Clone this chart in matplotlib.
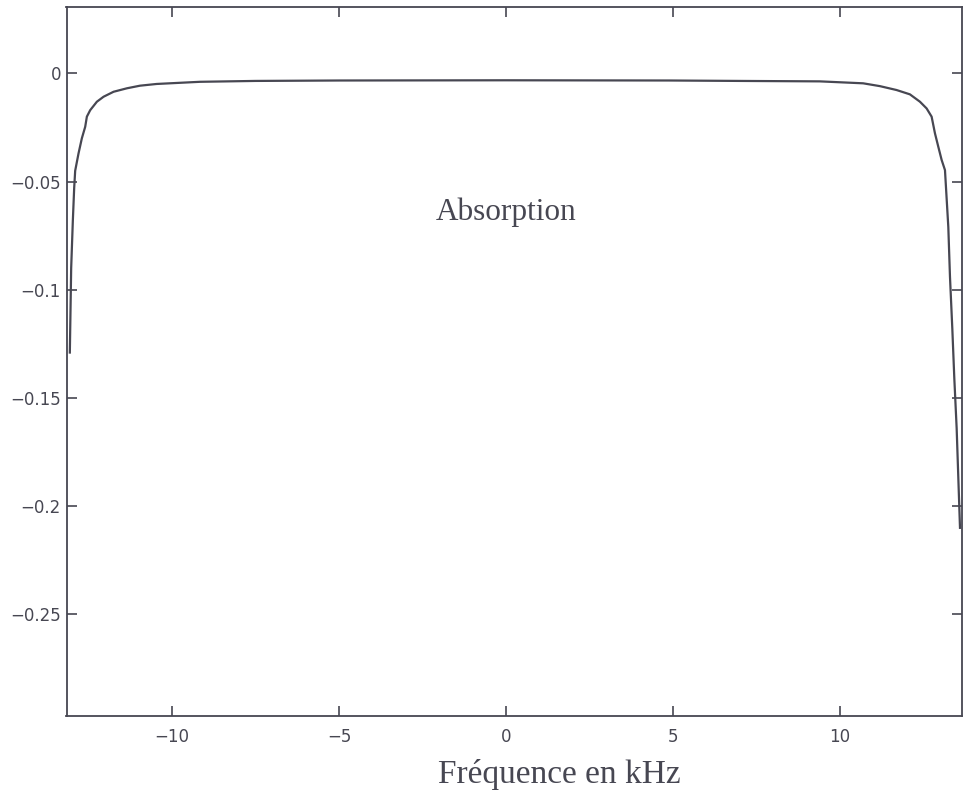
import matplotlib
matplotlib.use("Agg")
import matplotlib.pyplot as plt

# Data (frequency in kHz, absorption)
freq = [-13.06, -13.02, -12.97, -12.93, -12.9, -12.8, -12.7, -12.6, -12.55, -12.45,
        -12.25, -12.05, -11.75, -11.35, -10.96, -10.46, -9.16, -7.5, -5.0, 0.0,
        4.9, 7.0, 9.4, 10.7, 11.2, 11.7, 12.1, 12.4, 12.6, 12.75,
        12.85, 12.95, 13.05, 13.15, 13.25, 13.30, 13.37, 13.43, 13.50, 13.60]
absorption = [-0.129, -0.090, -0.068, -0.053, -0.045, -0.037, -0.030, -0.0247, -0.020, -0.017,
              -0.0131, -0.0108, -0.0085, -0.0069, -0.0057, -0.0049, -0.0039, -0.0035, -0.0033, -0.0032,
              -0.0033, -0.0035, -0.0037, -0.0046, -0.0059, -0.0077, -0.0097, -0.0131, -0.0162, -0.020,
              -0.0277, -0.0339, -0.040, -0.0447, -0.071, -0.094, -0.118, -0.141, -0.164, -0.21]

xticks = [-10, -5, 0, 5, 10]
yticks = [0, -0.05, -0.1, -0.15, -0.2, -0.25]
ytick_labels = ["0", "\u22120.05", "\u22120.1", "\u22120.15", "\u22120.2", "\u22120.25"]
xtick_labels = ["\u221210", "\u22125", "0", "5", "10"]

ink = "#474752"

fig = plt.figure(figsize=(9.63, 7.95), dpi=100)
ax = fig.add_axes([66.5 / 963, 1 - 715.7 / 795, (962 - 66.5) / 963, (715.7 - 6.7) / 795])

ax.plot(freq, absorption, color=ink, lw=1.6)

ax.set_xlim(-13.16, 13.66)
ax.set_ylim(-0.2968, 0.0308)

ax.set_xticks(xticks)
ax.set_xticklabels(xtick_labels)
ax.set_yticks(yticks)
ax.set_yticklabels(ytick_labels)

for s in ax.spines.values():
    s.set_color(ink)
    s.set_linewidth(1.3)

ax.tick_params(axis="both", direction="in", length=7.5, width=1.2, color=ink,
               labelcolor=ink, labelsize=12, top=True, right=True)
ax.tick_params(axis="x", pad=9)
ax.tick_params(axis="y", pad=4)
for lab in ax.get_xticklabels() + ax.get_yticklabels():
    lab.set_family("DejaVu Sans")

ax.text(0.02, -0.0678, "Absorption", family="Liberation Serif", fontsize=22.5,
        color=ink, ha="center", va="baseline")
fig.text(438 / 963, 1 - 782.7 / 795, "Fréquence en kHz", family="Liberation Serif",
         fontsize=24, color=ink, ha="left", va="baseline")

fig.savefig("out.png", dpi=100, facecolor="white")
